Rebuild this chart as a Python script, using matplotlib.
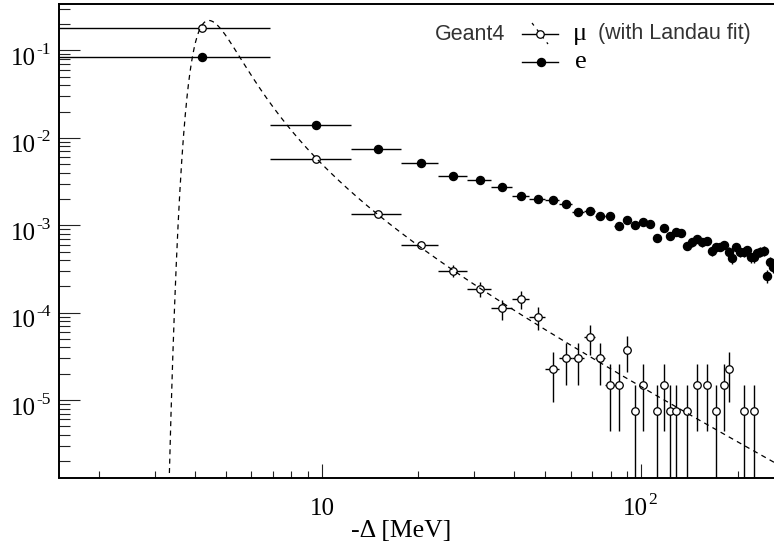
"""Energy-loss spectra of mu and e (Geant4), log-log, with Landau fit to mu."""
import numpy as np
import matplotlib
matplotlib.use("Agg")
import matplotlib.pyplot as plt
from matplotlib.ticker import LogLocator, NullFormatter
from matplotlib.transforms import blended_transform_factory

plt.rcParams["font.family"] = ["Liberation Serif", "DejaVu Serif"]
plt.rcParams["mathtext.fontset"] = "stix"

# histogram binning: 48 bins from 1.5 to 260 MeV
X_LO, X_HI, N_BINS = 1.5, 260.0, 48

# muon: filled bins only (bin index, normalised content)
MU_BIN = [0, 1, 2, 3, 4, 5, 6, 7, 8, 9, 10, 11, 12, 13, 14, 15, 16, 17, 18,
          20, 21, 22, 23, 25, 27, 29, 31, 33, 34, 38, 41]
MU_VAL = [0.1795, 5.78e-3, 1.36e-3, 5.96e-4, 3.0e-4, 1.87e-4, 1.12e-4, 1.44e-4,
          9.0e-5, 2.25e-5, 3.0e-5, 3.0e-5, 5.25e-5, 3.0e-5, 1.5e-5, 1.5e-5,
          3.75e-5, 7.5e-6, 1.5e-5, 7.5e-6, 1.5e-5, 7.5e-6, 7.5e-6, 7.5e-6,
          1.5e-5, 1.5e-5, 7.5e-6, 1.5e-5, 2.25e-5, 7.5e-6, 7.5e-6]

# electron: all 48 bins
E_VAL = [0.0836, 0.01416, 0.00741, 0.00516, 0.00370, 0.00330, 0.00274, 0.00215,
         0.00202, 0.00193, 0.00177, 0.00142, 0.00146, 0.00129, 0.00127, 0.000974,
         0.00115, 0.00101, 0.00108, 0.00104, 0.000710, 0.000939, 0.000760, 0.000831,
         0.000823, 0.000585, 0.000639, 0.000692, 0.000639, 0.000661, 0.000508, 0.000560,
         0.000569, 0.000600, 0.000499, 0.000419, 0.000569, 0.000499, 0.000491, 0.000521,
         0.000430, 0.000430, 0.000478, 0.000499, 0.000510, 0.000263, 0.000384, 0.000336]

COUNT_UNIT = 7.5e-6  # value of one entry (unit-area normalisation)

# Landau fit: A * Landau(x, mpv, sigma)
FIT_A, FIT_MPV, FIT_SIGMA = 1.22, 4.49, 0.32


def landau_pdf(lam):
    lam = np.asarray(lam, float)
    out = np.zeros_like(lam)
    neg = lam <= 0
    # positive-integrand representation, good for lam <= 0
    phi = np.linspace(1e-6, np.pi - 1e-6, 6000)
    logu = np.log(phi / np.sin(phi)) - phi / np.tan(phi)
    z = np.minimum(logu[None, :] - lam[neg][:, None], 50)
    out[neg] = np.trapezoid(np.exp(z - np.exp(z)), phi, axis=1) / np.pi
    # Laplace form, good for lam > 0
    t = np.logspace(-9, np.log10(40), 6000)
    base = np.exp(-t * np.log(t)) * np.sin(np.pi * t)
    pos = ~neg
    out[pos] = np.trapezoid(base[None, :] * np.exp(-lam[pos][:, None] * t[None, :]),
                            t, axis=1) / np.pi
    return out


bw = (X_HI - X_LO) / N_BINS
centers = X_LO + bw * (np.arange(N_BINS) + 0.5)

fig = plt.figure(figsize=(7.74, 5.47), dpi=100)
ax = fig.add_axes([59 / 774, (547 - 477.5) / 547, 715 / 774, 473.5 / 547])
ax.set_xscale("log")
ax.set_yscale("log")
ax.set_xlim(X_LO, X_HI)
ax.set_ylim(1.3e-6, 0.34)


def draw_hist(idx, vals, **kw):
    x = centers[np.asarray(idx)]
    v = np.asarray(vals)
    err = np.sqrt(v * COUNT_UNIT)
    lo = np.minimum(err, v * (1 - 1e-9))
    ax.errorbar(x, v, xerr=bw / 2, yerr=[lo, err], fmt="o", ecolor="black",
                elinewidth=1.0, capsize=0, zorder=3, **kw)


draw_hist(range(N_BINS), E_VAL, ms=5.8, mfc="black", mec="black")
draw_hist(MU_BIN, MU_VAL, ms=5.4, mfc="white", mec="black", mew=0.9)

xf = np.logspace(np.log10(X_LO), np.log10(X_HI), 2000)
yf = FIT_A * landau_pdf((xf - FIT_MPV) / FIT_SIGMA)
ax.plot(xf, yf, color="black", lw=0.9, ls=(0, (4, 3.5)), zorder=4)

# axes styling (ROOT-like)
for s in ["left", "bottom", "top"]:
    ax.spines[s].set_linewidth(1.4)
ax.spines["right"].set_visible(False)
ax.xaxis.set_major_locator(LogLocator(base=10, subs=(1.0,)))
ax.xaxis.set_minor_locator(LogLocator(base=10, subs=np.arange(2, 10)))
ax.yaxis.set_major_locator(LogLocator(base=10, subs=(1.0,)))
ax.yaxis.set_minor_locator(LogLocator(base=10, subs=np.arange(2, 10), numticks=20))
for a in (ax.xaxis, ax.yaxis):
    a.set_major_formatter(NullFormatter())
    a.set_minor_formatter(NullFormatter())
ax.tick_params(which="both", direction="in", top=False, right=False, width=0.8, color="#222222")
ax.tick_params(axis="y", which="major", length=15)
ax.tick_params(axis="y", which="minor", length=7.7)
ax.tick_params(axis="x", which="major", length=9.9)
ax.tick_params(axis="x", which="minor", length=5)


def fx(px):
    return (px - 59) / 715


def fy(py):
    return (477.5 - py) / 473.5


# tick labels, ROOT style: "10" with a small superscript exponent
ytr = blended_transform_factory(ax.transAxes, ax.transData)
for e in [1, 2, 3, 4, 5]:
    ax.text(fx(11), 10 ** (-e - 14.5 / 87.4), "10", transform=ytr,
            ha="left", va="baseline", fontsize=18)
    ax.text(fx(36.5), 10 ** (-e - 3.5 / 87.4), f"-{e}", transform=ytr,
            ha="left", va="baseline", fontsize=12.5)
xtr = blended_transform_factory(ax.transData, ax.transAxes)
ax.text(10, fy(515), "10", transform=xtr, ha="center", va="baseline", fontsize=18)
ax.text(fx(623), fy(515), "10", transform=ax.transAxes, ha="left", va="baseline", fontsize=18)
ax.text(fx(648.5), fy(503.5), "2", transform=ax.transAxes, ha="left", va="baseline",
        fontsize=12.5)
ax.text(fx(351), fy(536.7), "-Δ [MeV]", transform=ax.transAxes, ha="left", va="baseline",
        fontsize=18.5)

# legend
sans = ["Liberation Sans", "DejaVu Sans"]
r1, r2 = 34, 62
ax.text(fx(435), fy(r1), "Geant4", transform=ax.transAxes, ha="left", va="center",
        fontsize=15.5, family=sans, color="#333333")
ax.plot([fx(522), fx(558)], [fy(r1), fy(r1)], color="black", lw=1.0, transform=ax.transAxes,
        clip_on=False)
ax.plot([fx(532), fx(548)], [fy(r1 - 11), fy(r1 + 10)], color="black", lw=0.9,
        ls=(0, (2.5, 4)), transform=ax.transAxes, clip_on=False)
ax.plot([fx(540)], [fy(r1)], "o", ms=5.4, mfc="white", mec="black", mew=0.9,
        transform=ax.transAxes, clip_on=False)
ax.text(fx(573), fy(r1), "μ", transform=ax.transAxes, ha="left", va="center", fontsize=19)
ax.text(fx(598), fy(r1), "(with Landau fit)", transform=ax.transAxes, ha="left",
        va="center", fontsize=15.5, family=sans, color="#333333")
ax.plot([fx(522), fx(558)], [fy(r2), fy(r2)], color="black", lw=1.0, transform=ax.transAxes,
        clip_on=False)
ax.plot([fx(540.5)], [fy(r2)], "o", ms=5.8, mfc="black", mec="black",
        transform=ax.transAxes, clip_on=False)
ax.text(fx(575), fy(r2), "e", transform=ax.transAxes, ha="left", va="center", fontsize=19)

fig.savefig("out.png", dpi=100)
